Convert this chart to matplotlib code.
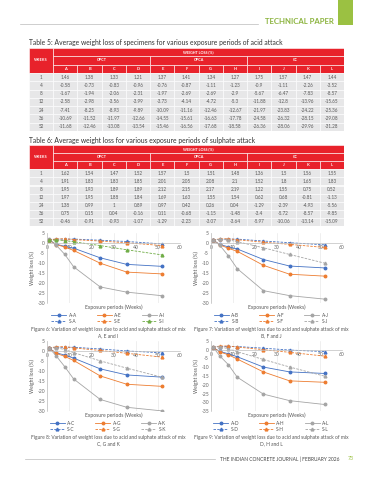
import matplotlib
matplotlib.use("Agg")
import matplotlib.pyplot as plt
from matplotlib.patches import Rectangle

plt.rcParams['font.family'] = ['Lato', 'DejaVu Sans']
plt.rcParams['axes.unicode_minus'] = False

W, H = 373, 480

weeks = [1, 4, 8, 12, 24, 36, 52]
mixes = ['A', 'B', 'C', 'D', 'E', 'F', 'G', 'H', 'I', 'J', 'K', 'L']
groups = ['OPCT', 'OPCA', 'CC']

# Table 5 - acid attack, weight loss (%)
acid_loss = {
    'A': [1.46, -0.58, -1.67, -2.58, -7.41, -10.69, -11.68],
    'B': [1.38, -0.73, -1.94, -2.98, -8.25, -11.52, -12.46],
    'C': [1.33, -0.83, -2.06, -3.56, -8.93, -11.97, -13.08],
    'D': [1.21, -0.96, -2.31, -3.99, -9.89, -12.66, -13.54],
    'E': [1.37, -0.76, -1.97, -3.73, -10.09, -14.55, -15.46],
    'F': [1.41, -0.87, -2.69, -4.14, -11.16, -15.61, -16.56],
    'G': [1.34, -1.11, -2.69, -4.72, -12.46, -16.63, -17.68],
    'H': [1.27, -1.23, -2.9, -5.3, -12.67, -17.78, -18.58],
    'I': [1.75, -0.9, -5.67, -11.88, -21.97, -24.58, -26.36],
    'J': [1.57, -1.11, -6.47, -12.8, -23.83, -26.32, -28.06],
    'K': [1.47, -2.26, -7.83, -13.96, -24.22, -28.15, -29.96],
    'L': [1.44, -3.52, -8.57, -15.65, -25.36, -29.08, -31.28],
}

# Table 6 - sulphate attack, weight loss (%)
sulphate_loss = {
    'A': [1.62, 1.91, 1.95, 1.97, 1.38, 0.75, -0.46],
    'B': [1.54, 1.83, 1.93, 1.95, 0.99, 0.15, -0.91],
    'C': [1.47, 1.83, 1.89, 1.88, 1.00, 0.04, -0.93],
    'D': [1.52, 1.85, 1.89, 1.84, 0.89, -0.16, -1.07],
    'E': [1.57, 2.01, 2.12, 1.69, 0.97, 0.11, -1.29],
    'F': [1.5, 2.05, 2.15, 1.63, 0.42, -0.68, -2.23],
    'G': [1.51, 2.08, 2.17, 1.55, 0.26, -1.15, -3.07],
    'H': [1.48, 2.1, 2.19, 1.54, 0.04, -1.48, -3.64],
    'I': [1.36, 1.52, 1.22, 0.62, -1.29, -3.4, -5.97],
    'J': [1.5, 1.8, 1.55, 0.68, -2.39, -5.72, -10.06],
    'K': [1.56, 1.65, 0.75, -0.81, -4.93, -8.57, -13.14],
    'L': [1.55, 1.83, 0.52, -1.13, -5.56, -9.85, -15.09],
}

figure_mixes = [('Figure 6', ['A', 'E', 'I']), ('Figure 7', ['B', 'F', 'J']),
                ('Figure 8', ['C', 'G', 'K']), ('Figure 9', ['D', 'H', 'L'])]

RED = '#e8222b'
CELL = '#e7e7e8'
TXT = '#5a5a5a'
GREEN = '#9bc142'
series_colors = ['#4472c4', '#ed7d31', '#a5a5a5']


def px_axes(fig, x0, y0, x1, y1):
    return fig.add_axes([x0 / W, 1 - y1 / H, (x1 - x0) / W, (y1 - y0) / H])


def fmt(v):
    return '{:g}'.format(v)


def draw_table(fig, box, title, data):
    x0, y0, x1, y1 = box
    fig.text(x0 / W, 1 - (y0 - 5) / H, title, fontsize=4.9, color='#333333',
             va='center', ha='left')
    ax = px_axes(fig, x0, y0, x1, y1)
    ax.set_xlim(0, 13)
    ax.set_ylim(10, 0)
    ax.axis('off')
    lw = 0.4
    # header cells
    ax.add_patch(Rectangle((0, 0), 1, 3, fc=RED, ec='white', lw=lw))
    ax.text(0.5, 1.5, 'WEEKS', color='white', fontsize=2.9, weight='bold',
            ha='center', va='center')
    ax.add_patch(Rectangle((1, 0), 12, 1, fc=RED, ec='white', lw=lw))
    ax.text(7, 0.5, 'WEIGHT LOSS (%)', color='white', fontsize=2.7,
            weight='bold', ha='center', va='center')
    for g, name in enumerate(groups):
        ax.add_patch(Rectangle((1 + 4 * g, 1), 4, 1, fc=RED, ec='white', lw=lw))
        ax.text(3 + 4 * g, 1.5, name, color='white', fontsize=2.7,
                weight='bold', ha='center', va='center')
    for j, m in enumerate(mixes):
        ax.add_patch(Rectangle((1 + j, 2), 1, 1, fc=RED, ec='white', lw=lw))
        ax.text(1.5 + j, 2.5, m, color='white', fontsize=2.9, weight='bold',
                ha='center', va='center')
    # data cells
    for i, wk in enumerate(weeks):
        ax.add_patch(Rectangle((0, 3 + i), 1, 1, fc=CELL, ec='white', lw=lw))
        ax.text(0.5, 3.5 + i, str(wk), color=TXT, fontsize=3.3,
                ha='center', va='center')
        for j, m in enumerate(mixes):
            ax.add_patch(Rectangle((1 + j, 3 + i), 1, 1, fc=CELL, ec='white',
                                   lw=lw))
            ax.text(1.5 + j, 3.5 + i, fmt(data[m][i]), color=TXT,
                    fontsize=3.3, ha='center', va='center')


def draw_chart(fig, box, ymin, name, trio):
    x0, y0, x1, y1 = box
    ax = px_axes(fig, x0, y0, x1, y1)
    handles = []
    for c, m in zip(series_colors, trio):
        h, = ax.plot(weeks, acid_loss[m], color=c, lw=0.6, marker='o',
                     ms=1.8, label='A-' + m)
        handles.append(h)
    sc = series_colors[:2] + (['#70ad47'] if name == 'Figure 6' else ['#a5a5a5'])
    for c, m in zip(sc, trio):
        h, = ax.plot(weeks, sulphate_loss[m], color=c, lw=0.6, ls=(0, (3, 1.5)),
                     marker='^', ms=2.0, label='S-' + m)
        handles.append(h)
    ax.set_xlim(0, 60)
    ax.set_ylim(ymin, 5)
    ax.set_xticks(range(0, 61, 10))
    ax.set_yticks(range(ymin, 6, 5))
    ax.spines['top'].set_visible(False)
    ax.spines['right'].set_visible(False)
    ax.spines['bottom'].set_position(('data', 0))
    for s in ('left', 'bottom'):
        ax.spines[s].set_color('#bfbfbf')
        ax.spines[s].set_linewidth(0.5)
    ax.grid(axis='x', color='#e3e3e3', lw=0.4)
    ax.set_axisbelow(True)
    ax.tick_params(length=0, labelsize=3.6, labelcolor='#666666', pad=1.5)
    ax.set_ylabel('Weight loss (%)', fontsize=3.6, color='#555555', labelpad=1.5)
    ax.text(0.5, -0.02, 'Exposure periods (Weeks)', transform=ax.transAxes,
            fontsize=3.6, color='#555555', ha='center', va='top')
    order = [handles[0], handles[3], handles[1], handles[4], handles[2],
             handles[5]]
    ax.legend(handles=order, ncol=3, loc='upper center',
              bbox_to_anchor=(0.46, -0.08), frameon=False, fontsize=3.4,
              handlelength=3.2, columnspacing=4.2, labelspacing=0.25,
              handletextpad=0.5, labelcolor='#555555')
    cx = (x0 + x1) / 2 - 5
    fig.text(cx / W, 1 - (y1 + 24) / H,
             name + ': Variation of weight loss due to acid and sulphate attack of mix\n'
             + '{}, {} and {}'.format(*trio),
             fontsize=3.5, color='#555555', ha='center', va='top',
             linespacing=1.3)


fig = plt.figure(figsize=(W / 100, H / 100), dpi=100)
fig.patch.set_facecolor('white')

# page header
deco = fig.add_axes([0, 0, 1, 1])
deco.set_xlim(0, W)
deco.set_ylim(H, 0)
deco.axis('off')
deco.add_patch(Rectangle((338, 0), 15, 25, fc=GREEN, ec='none'))
deco.plot([20, 258], [24, 24], color='#bbbbbb', lw=0.5)
deco.text(334, 22, 'TECHNICAL PAPER', color='#8cb43f', fontsize=5.6,
          weight='bold', ha='right', va='center')
# page footer
deco.plot([25, 215], [459, 459], color='#bbbbbb', lw=0.5)
deco.text(220, 459, 'THE INDIAN CONCRETE JOURNAL | FEBRUARY 2026',
          color='#444444', fontsize=3.5, ha='left', va='center')
deco.text(348, 459, '73', color=GREEN, fontsize=3.8, ha='left', va='center')

draw_table(fig, (29, 48, 344, 131),
           'Table 5: Average weight loss of specimens for various exposure periods of acid attack',
           acid_loss)
draw_table(fig, (29, 145, 344, 226),
           'Table 6: Average weight loss for various exposure periods of sulphate attack',
           sulphate_loss)

boxes = [(47, 233, 180, 303, -30), (211, 233, 342, 303, -30),
         (47, 341, 180, 411, -30), (211, 341, 342, 411, -35)]
for (name, trio), (a, b, c, d, ymin) in zip(figure_mixes, boxes):
    draw_chart(fig, (a, b, c, d), ymin, name, trio)

fig.savefig('out.png', dpi=100)
